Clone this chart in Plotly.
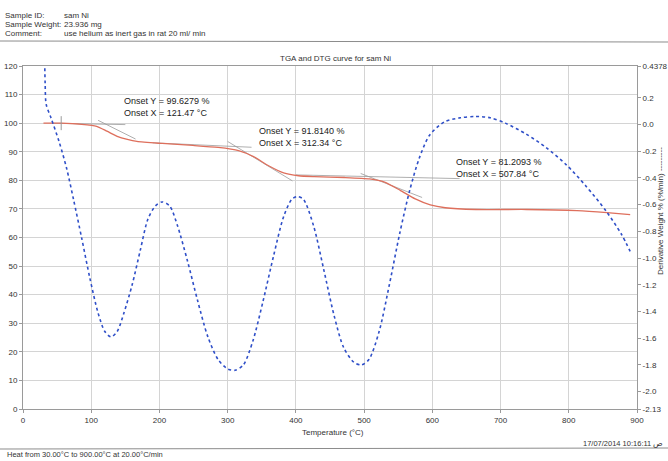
import plotly.graph_objects as go

# ---------------- data ----------------
tga_temp = [30, 37, 56, 86, 108, 123, 138, 153, 167, 204, 249, 286, 316, 338, 360, 382,
            404, 427, 471, 508, 530, 553, 575, 597, 619, 664, 738, 812, 856, 890]
tga_weight = [100.0, 100.0, 100.0, 99.6, 98.9, 97.2, 95.4, 94.3, 93.6, 92.9, 92.2, 91.5,
              90.4, 88.3, 85.1, 82.6, 81.6, 81.3, 81.0, 80.5, 79.4, 76.5, 73.5, 71.4,
              70.4, 69.8, 69.8, 69.4, 68.7, 68.0]

dtg_temp = [30, 31.5, 32.5, 34, 41, 53, 64, 74, 86, 98, 110, 120, 129, 138, 148, 160, 172,
            183, 194, 204, 215, 226, 241, 256, 271, 286, 300, 311, 323, 337, 352, 367, 382,
            394, 402, 411, 426, 441, 456, 470, 485, 496, 507, 522, 537, 552, 567, 581, 596,
            618, 641, 663, 685, 707, 737, 766, 796, 825, 855, 877, 890]
dtg_deriv = [1.5, 0.6, 0.30, 0.15, 0.05, -0.13, -0.33, -0.56, -0.85, -1.15, -1.41, -1.55,
             -1.59, -1.55, -1.41, -1.20, -0.94, -0.71, -0.61, -0.58, -0.61, -0.75, -1.02,
             -1.32, -1.59, -1.76, -1.83, -1.84, -1.80, -1.62, -1.32, -0.99, -0.69, -0.56,
             -0.54, -0.56, -0.76, -1.09, -1.43, -1.67, -1.78, -1.80, -1.76, -1.55, -1.20,
             -0.82, -0.49, -0.25, -0.08, 0.02, 0.05, 0.06, 0.05, 0.01, -0.07, -0.17, -0.30,
             -0.46, -0.65, -0.82, -0.95]

# onset constructions (baseline and tangent segments)
onset_x = [121.47, 312.34, 507.84]
onset_y = [99.6279, 91.8140, 81.2093]
base_T = [[45, 150], [190, 335], [400, 640]]
base_W = [[99.95, 99.5], [93.12, 91.57], [81.9, 80.6]]
tang_T = [[110, 165], [300, 395], [495, 585]]
tang_W = [[101.0, 94.45], [93.6, 79.8], [82.4, 74.0]]
limit_T = [56]
limit_W = [100.0]

x_ticks = list(range(0, 1000, 100))
left_ticks = list(range(0, 130, 10))
right_tickvals = [0.4378, 0.2, 0.0, -0.2, -0.4, -0.6, -0.8, -1.0, -1.2, -1.4, -1.6, -1.8, -2.0, -2.13]
right_ticktext = ["0.4378", "0.2", "0.0", "-0.2", "-0.4", "-0.6", "-0.8", "-1.0", "-1.2",
                  "-1.4", "-1.6", "-1.8", "-2.0", "-2.13"]

# ---------------- figure ----------------
FONT = "Liberation Sans, Arial, sans-serif"
TXT = "#333333"
W, H = 668, 461
ML, MR, MT, MB = 23, 31, 66, 52
PW, PH = W - ML - MR, H - MT - MB


def px(x):
    return (x - ML) / PW


def py(y):
    return (H - MB - y) / PH


fig = go.Figure()

for bt, bw in zip(base_T, base_W):
    fig.add_trace(go.Scatter(x=bt, y=bw, mode="lines", line=dict(color="#9a9a9a", width=0.8),
                             hoverinfo="skip", showlegend=False))
for tt, tw in zip(tang_T, tang_W):
    fig.add_trace(go.Scatter(x=tt, y=tw, mode="lines", line=dict(color="#9a9a9a", width=0.8),
                             hoverinfo="skip", showlegend=False))

fig.add_trace(go.Scatter(x=tga_temp, y=tga_weight, mode="lines", name="Weight",
                         line=dict(color="#de6f5c", width=1.3, shape="spline", smoothing=0.6),
                         showlegend=False))

fig.add_trace(go.Scatter(x=limit_T, y=limit_W, mode="markers", hoverinfo="skip",
                         marker=dict(symbol="line-ns-open", size=10, color="#9a9a9a",
                                     line=dict(color="#9a9a9a", width=1)),
                         showlegend=False))

fig.add_trace(go.Scatter(x=dtg_temp, y=dtg_deriv, mode="lines", name="Deriv. Weight",
                         yaxis="y2",
                         line=dict(color="#2f4fc8", width=1.6, dash="dot", shape="spline",
                                   smoothing=0.8),
                         showlegend=False))

axis_common = dict(showline=True, linecolor="#9a9a9a", linewidth=1, ticks="outside",
                   ticklen=3, tickcolor="#9a9a9a", tickfont=dict(family=FONT, size=8, color=TXT),
                   zeroline=False)

fig.update_layout(
    width=W, height=H,
    margin=dict(l=ML, r=MR, t=MT, b=MB, autoexpand=False),
    paper_bgcolor="white", plot_bgcolor="white",
    font=dict(family=FONT, color=TXT, size=8),
    xaxis=dict(range=[0, 900], tickvals=x_ticks, showgrid=True, gridcolor="#d4d4d4",
               gridwidth=1, mirror=True, **axis_common),
    yaxis=dict(range=[0, 120], tickvals=left_ticks, showgrid=True, gridcolor="#d4d4d4",
               gridwidth=1, **axis_common),
    yaxis2=dict(range=[-2.13, 0.4378], overlaying="y", side="right", showgrid=False,
                tickvals=right_tickvals, ticktext=right_ticktext, **axis_common),
)

ann = []


def note(text, x, y, xanchor="left", size=8, **kw):
    ann.append(dict(text=text, x=x, y=y, xref="paper", yref="paper", xanchor=xanchor,
                    yanchor="middle", showarrow=False,
                    font=dict(family=FONT, size=size, color=TXT), **kw))


# header
note("Sample ID:", px(3), py(15))
note("Sample Weight:", px(3), py(24.5))
note("Comment:", px(3), py(34))
note("sam Ni", px(62), py(15))
note("23.936 mg", px(62), py(24.5))
note("use helium as inert gas in rat 20 ml/ min", px(62), py(34))
note("TGA and DTG curve for sam Ni", px(335), py(59), xanchor="center")
note("Temperature (°C)", px(333), py(432), xanchor="center")
note("17/07/2014 10:16:11 ص", px(665), py(443), xanchor="right", size=7.5)
note("Heat from 30.00°C to 900.00°C at 20.00°C/min", px(5), py(454), size=7.5)
note("Derivative Weight % (%/min) ---------", px(661), py(211), xanchor="center",
     textangle=-90)

# onset labels (data coordinates)
onset_label_T = [145, 343, 632]
onset_label_W = [105.7, 95.2, 84.4]
for ox, oy, lt, lw in zip(onset_x, onset_y, onset_label_T, onset_label_W):
    ann.append(dict(text=f"Onset Y = {oy:.4f} %<br>Onset X = {ox:.2f} °C", x=lt, y=lw,
                    xref="x", yref="y", xanchor="left", yanchor="middle", align="left",
                    showarrow=False, font=dict(family=FONT, size=9, color="#222222")))

fig.update_layout(annotations=ann)

fig.add_shape(type="line", xref="paper", yref="paper", x0=px(0), x1=px(668), y0=py(41),
              y1=py(42), line=dict(color="#8c8c8c", width=1))
fig.add_shape(type="line", xref="paper", yref="paper", x0=px(0), x1=px(668), y0=py(449),
              y1=py(448), line=dict(color="#8c8c8c", width=1))

fig.write_html("out.html", config={"displayModeBar": False},
               post_script="document.body.style.margin='0px';document.body.style.overflow='hidden';")
